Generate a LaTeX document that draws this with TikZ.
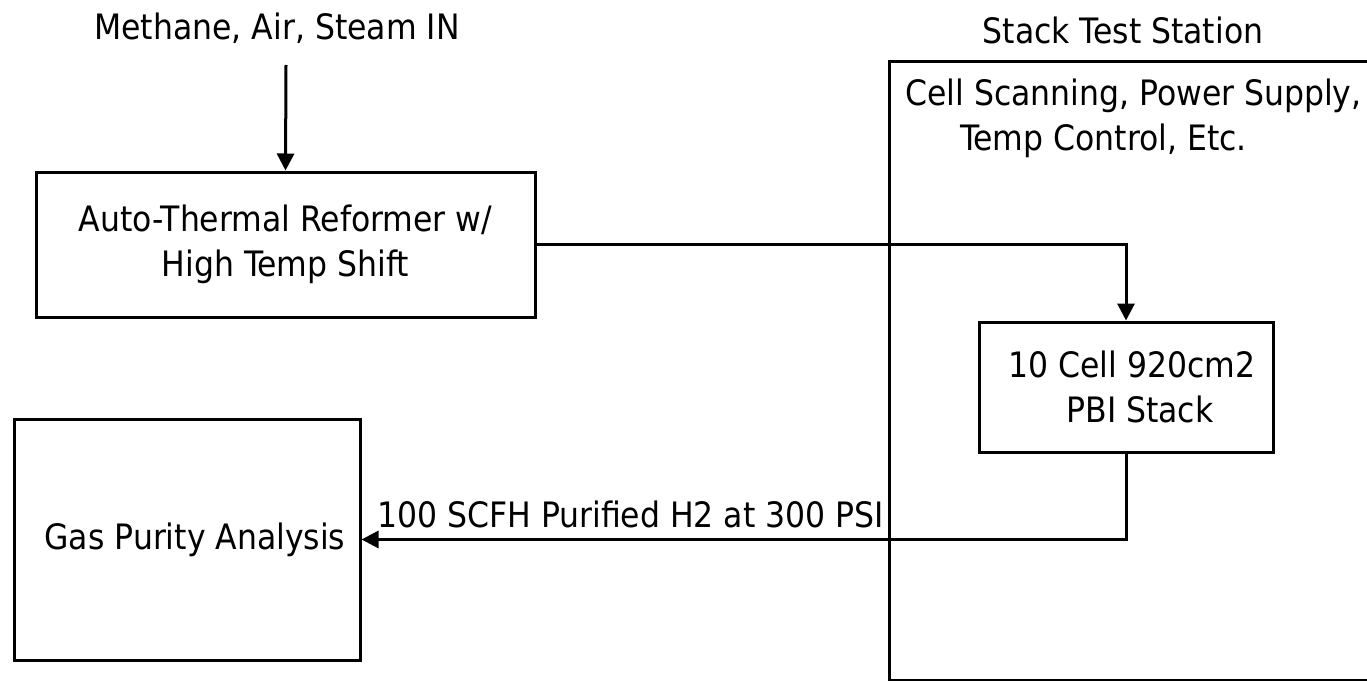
\documentclass[tikz,border=0pt]{standalone}
\usepackage{fontspec}
\setmainfont{DejaVu Sans Condensed}
\usetikzlibrary{arrows.meta}
\begin{document}
\begin{tikzpicture}[x=1pt,y=-1pt,
  lbl/.style={font=\fontsize{35}{45}\selectfont, inner sep=0pt, align=center},
  box/.style={draw, line width=3pt, inner sep=0pt, font=\fontsize{35}{45}\selectfont, align=center},
  flow/.style={line width=3pt, -{Triangle[length=17pt,width=17pt]}}]
\useasboundingbox (0,0) rectangle (1367,680);
\clip (0,0) rectangle (1367,680);
\node[lbl] (inlbl) at (277,28) {Methane, Air, Steam IN};
\node[lbl] (stslbl) at (1123,30) {Stack Test Station};
\node[box, anchor=north west, minimum width=620pt, minimum height=619pt] (sts) at (888,60) {};
\node[lbl, anchor=west] (ctl1) at (905,96) {Cell Scanning, Power Supply,};
\node[lbl, anchor=west] (ctl2) at (960,141) {Temp Control, Etc.};
\node[box, minimum width=499pt, minimum height=145pt] (atr) at (285.5,244.5) {Auto-Thermal Reformer w/\\High Temp Shift};
\node[box, minimum width=294pt, minimum height=130pt] (stack) at (1126,387) {\hspace*{12pt}10 Cell 920cm2\\\hspace*{28pt}PBI Stack};
\node[box, minimum width=346pt, minimum height=241pt] (gas) at (187,539.5) {\hspace*{16pt}Gas Purity Analysis};
\coordinate (src) at (286,65);
\draw[flow] (src) -- (atr.north);
\draw[flow] (atr.east) -| (stack.north);
\draw[flow] (stack.south) |- (gas.east);
\node[lbl, anchor=base west] (h2lbl) at (377,527) {100 SCFH Purified H2 at 300 PSI};
\end{tikzpicture}
\end{document}
